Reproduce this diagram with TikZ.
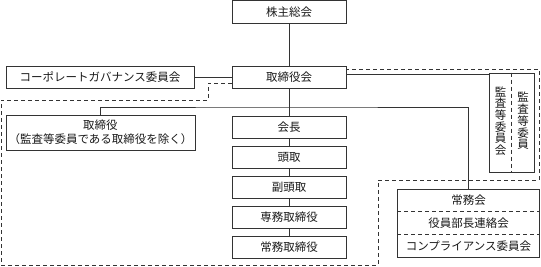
\documentclass[tikz,border=0pt]{standalone}
\usepackage{fontspec}
\newfontfamily\jp{Noto Sans CJK JP}
\usetikzlibrary{calc}
\begin{document}
\begin{tikzpicture}[x=1pt,y=-1pt,
  box/.style={draw=black!80, line width=0.8pt, inner sep=0pt, align=center,
    font=\jp\fontsize{11.5}{14}\selectfont, text=black!90},
  vtext/.style={inner sep=0pt, align=center, font=\jp\fontsize{11.5}{11.7}\selectfont, text=black!90},
  ln/.style={draw=black!80, line width=0.8pt},
  dsh/.style={draw=black!80, line width=0.8pt, dash pattern=on 4pt off 3pt}]
\useasboundingbox (0,0) rectangle (541,266);
% boxes
\node[box, minimum width=114pt, minimum height=22.5pt] (kabu) at (289,11.75) {株主総会};
\node[box, minimum width=114pt, minimum height=22pt] (bod) at (289,77) {取締役会};
\node[box, minimum width=188pt, minimum height=22pt] (cg) at (100,77) {コーポレートガバナンス委員会};
\node[box, minimum width=189pt, minimum height=35pt] (dir) at (100.5,132.5) {取締役\\（監査等委員である取締役を除く）};
\node[box, minimum width=114pt, minimum height=22pt] (kaicho) at (289,127) {会長};
\node[box, minimum width=114pt, minimum height=22pt] (tohdori) at (289,157) {頭取};
\node[box, minimum width=114pt, minimum height=22pt] (fuku) at (289,187) {副頭取};
\node[box, minimum width=114pt, minimum height=22pt] (senmu) at (289,217) {専務取締役};
\node[box, minimum width=114pt, minimum height=22pt] (jomutr) at (289,247) {常務取締役};
% audit committee box
\node[box, minimum width=45pt, minimum height=99pt] (kansa) at (511.5,122.5) {};
\draw[dsh] (kansa.north) -- (kansa.south);
\node[vtext] (kansakai) at (500.5,121) {監\\査\\等\\委\\員\\会};
\node[vtext] (kansain) at (523,121) {監\\査\\等\\委\\員};
% executive committee box
\node[box, minimum width=142pt, minimum height=68pt] (joumu) at (468.5,223) {};
\draw[dsh] ($(joumu.north west)!1/3!(joumu.south west)$) -- ($(joumu.north east)!1/3!(joumu.south east)$);
\draw[dsh] ($(joumu.north west)!2/3!(joumu.south west)$) -- ($(joumu.north east)!2/3!(joumu.south east)$);
\node[vtext] (jm1) at (468.5,200.5) {常務会};
\node[vtext] (jm2) at (468.5,223.5) {役員部長連絡会};
\node[vtext] (jm3) at (468.5,246) {コンプライアンス委員会};
% connectors
\draw[ln] (kabu.south) -- (bod.north);
\draw[ln] (cg.east) -- (bod.west);
\coordinate (hub) at (289,107);
\draw[ln] (bod.south) -- (kaicho.north);
\draw[ln] (dir.north) |- (hub) -| (joumu.north);
\draw[ln] (kaicho.south) -- (tohdori.north);
\draw[ln] (tohdori.south) -- (fuku.north);
\draw[ln] (fuku.south) -- (senmu.north);
\draw[ln] (senmu.south) -- (jomutr.north);
\draw[ln] ([yshift=3pt]bod.east) coordinate (k1) -- (k1 -| kansa.west);
% dashed frame
\coordinate (d1) at ([yshift=-6pt]bod.west);
\coordinate (d2) at (208,83);
\coordinate (d3) at (208,100);
\coordinate (d4) at (1,100);
\coordinate (d5) at (1,265);
\coordinate (d6) at (378,265);
\coordinate (d7) at (378,180);
\coordinate (d8) at (539,180);
\coordinate (d9) at (539,69);
\coordinate (d10) at ([yshift=8pt]bod.east);
\draw[dsh] (d1) -- (d2) -- (d3) -- (d4) -- (d5) -- (d6) -- (d7) -- (d8) -- (d9) -- (d10);
\end{tikzpicture}
\end{document}
